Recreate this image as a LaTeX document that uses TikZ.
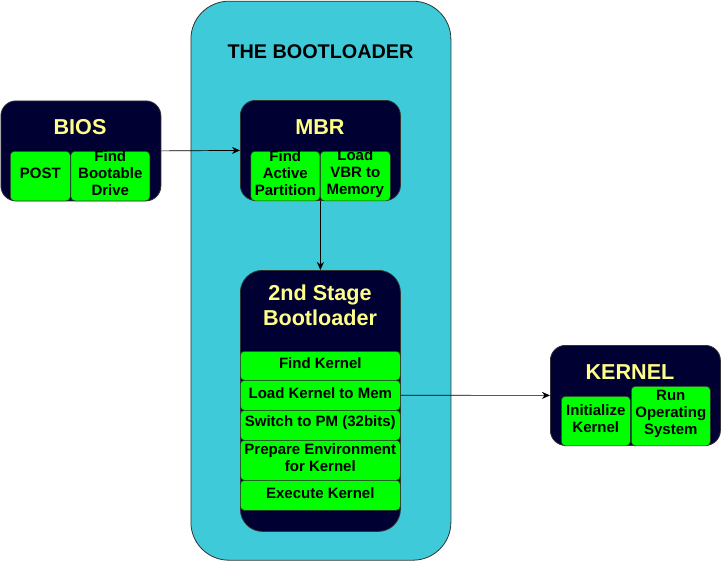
\documentclass[tikz,border=0pt]{standalone}
\usepackage{fontspec}
\setmainfont{Liberation Sans}
\usetikzlibrary{arrows.meta}
\definecolor{cyanbg}{HTML}{3ECAD8}
\definecolor{navy}{HTML}{000033}
\definecolor{grn}{HTML}{00FF00}
\definecolor{ylw}{HTML}{FFFF88}
\definecolor{edge}{HTML}{333333}
\tikzset{
  outer/.style={draw=edge, line width=0.8pt, fill=cyanbg, rounded corners=38pt, anchor=north west, inner sep=0pt},
  darkbox/.style={draw=edge, line width=0.8pt, fill=navy, anchor=north west, inner sep=0pt},
  itembox/.style={draw=edge, line width=0.6pt, fill=grn, rounded corners=4pt, anchor=north west, inner sep=0pt},
  itemtext/.style={align=center, font=\bfseries\fontsize{15}{17}\selectfont, text=black, inner sep=0pt, yshift=2.5pt},
  ttl/.style={font=\bfseries\fontsize{21.6}{25}\selectfont, text=ylw, align=center, inner sep=0pt},
  conn/.style={draw=black, line width=0.7pt, -{Stealth[length=8pt,width=7pt,inset=2.5pt]}}
}
\newcommand\gitem[5]{\node[itembox, minimum width=#3pt, minimum height=#4pt, label={[itemtext]center:#5}] (#1) at (#2) {};}
\begin{document}
\begin{tikzpicture}[x=1pt,y=-1pt]
\useasboundingbox (0,0) rectangle (721,562);
% outer bootloader container
\node[outer, minimum width=260pt, minimum height=559pt] (boot) at (190.5,0.8) {};
\node[font=\bfseries\fontsize{19.8}{24}\selectfont, text=black, inner sep=0pt] (boott) at (320.5,52) {THE BOOTLOADER};
% BIOS
\node[darkbox, rounded corners=15pt, minimum width=160pt, minimum height=100pt] (bios) at (0.5,100.5) {};
\node[ttl] (biost) at (80,127) {BIOS};
\gitem{post}{10,151}{60}{49.5}{POST}
\gitem{fbd}{70.5,151}{79}{49.5}{Find\\Bootable\\Drive}
% MBR
\node[darkbox, rounded corners=15pt, minimum width=160pt, minimum height=100pt] (mbr) at (240,100) {};
\node[ttl] (mbrt) at (320,127) {MBR};
\gitem{fap}{250.5,151}{69}{49.5}{Find\\Active\\Partition}
\gitem{lvbr}{320,151}{70}{49.5}{Load\\VBR to\\Memory}
% 2nd stage
\node[darkbox, rounded corners=22pt, minimum width=160pt, minimum height=261pt] (stage) at (240,270) {};
\node[ttl] (staget) at (320,305.5) {2nd Stage\\Bootloader};
\gitem{fk}{240,351}{160}{29}{Find Kernel}
\gitem{lk}{240,380}{160}{30}{Load Kernel to Mem}
\gitem{sw}{240,410}{160}{30}{Switch to PM (32bits)}
\gitem{pe}{240,440}{160}{40}{Prepare Environment\\for Kernel}
\gitem{ek}{240,480}{160}{30}{Execute Kernel}
% KERNEL
\node[darkbox, rounded corners=15pt, minimum width=170pt, minimum height=100pt] (kern) at (550,345) {};
\node[ttl] (kernt) at (630,372) {KERNEL};
\gitem{ik}{561,396}{69}{49.5}{Initialize\\Kernel}
\gitem{ros}{631,386}{79}{59.5}{Run\\Operating\\System}
% connectors
\draw[conn] (bios.east) -- (mbr.west);
\draw[conn] (mbr.south) -- (stage.north);
\draw[conn] (lk.east) -- (kern.west);
\end{tikzpicture}
\end{document}
